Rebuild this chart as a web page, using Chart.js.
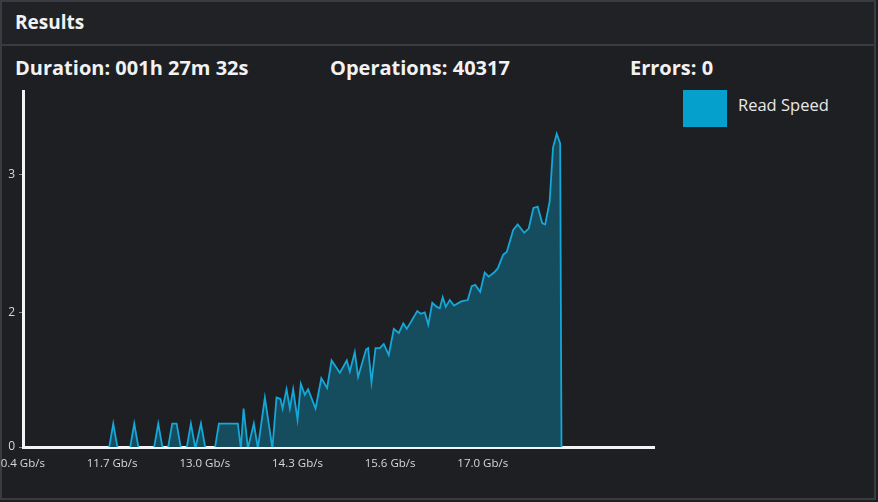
<!DOCTYPE html>
<html>
<head>
<meta charset="utf-8">
<title>Results</title>
<script src="https://cdn.jsdelivr.net/npm/chart.js@4.4.1/dist/chart.umd.min.js"></script>
<style>
  html, body { margin: 0; padding: 0; width: 878px; height: 502px; overflow: hidden; background: #1e1f23; }
  body { position: relative; font-family: "Open Sans", sans-serif; color: #f2f2f2; }
  #panel { position: absolute; left: 0; top: 0; width: 876px; height: 500px; box-sizing: border-box; border: 2px solid #393b40; }
  #header { position: absolute; left: 2px; top: 2px; width: 872px; height: 42px; border-bottom: 2px solid #393b40; background: #202226; }
  .title { position: absolute; left: 13px; top: 7px; font-weight: 700; font-size: 19px; line-height: 26px; }
  .stat { position: absolute; top: 55px; font-weight: 700; font-size: 20px; line-height: 26px; white-space: nowrap; }
  #chartBox { position: absolute; left: 0; top: 80px; width: 670px; height: 410px; }
  #legend { position: absolute; left: 683px; top: 90px; display: flex; align-items: flex-start; }
  #legend .box { width: 44px; height: 37px; }
  #legend .txt { margin-left: 11px; margin-top: 4px; font-size: 16.5px; line-height: 22px; color: #e8e8e8; }
</style>
</head>
<body>
<div id="panel"></div>
<div id="header"><div class="title">Results</div></div>
<div class="stat" style="left:15px">Duration: 001h 27m 32s</div>
<div class="stat" style="left:330px">Operations: 40317</div>
<div class="stat" style="left:630px">Errors: 0</div>
<div id="chartBox"><canvas id="speedChart"></canvas></div>
<div id="legend"></div>

<script>
// ------------------ Data ------------------

const seriesLabel = "Read Speed";

// read speed (Gb/s)
const speeds = [
  11.456, 11.585, 11.646, 11.708, 11.884, 11.945, 12.007, 12.225, 12.287, 12.349,
  12.425, 12.486, 12.549, 12.610, 12.691, 12.752, 12.816, 12.895, 12.959, 13.094,
  13.151, 13.421, 13.464, 13.503, 13.564, 13.649, 13.706, 13.806, 13.913, 13.972,
  14.027, 14.058, 14.115, 14.162, 14.209, 14.271, 14.318, 14.375, 14.422, 14.528,
  14.610, 14.693, 14.756, 14.874, 14.973, 15.016, 15.087, 15.134, 15.248, 15.277,
  15.325, 15.382, 15.443, 15.500, 15.571, 15.643, 15.714, 15.778, 15.828, 15.977,
  16.027, 16.084, 16.134, 16.191, 16.255, 16.298, 16.340, 16.383, 16.440, 16.501,
  16.604, 16.696, 16.753, 16.803, 16.874, 16.938, 16.995, 17.071, 17.124, 17.202,
  17.252, 17.344, 17.408, 17.501, 17.565, 17.632, 17.693, 17.757, 17.800, 17.864,
  17.911, 17.964, 18.013, 18.032, 18.078
];

// baseline points (1.01) sit just under the axis line
const readValues = [
  1.01, 1.01, 1.19, 1.01, 1.01, 1.19, 1.01, 1.01, 1.19, 1.01,
  1.01, 1.19, 1.19, 1.01, 1.01, 1.19, 1.01, 1.19, 1.01, 1.01,
  1.19, 1.19, 1.01, 1.30, 1.01, 1.19, 1.01, 1.38, 1.01, 1.38,
  1.37, 1.30, 1.44, 1.30, 1.44, 1.22, 1.48, 1.40, 1.44, 1.30,
  1.52, 1.45, 1.65, 1.56, 1.65, 1.57, 1.71, 1.53, 1.73, 1.74,
  1.49, 1.74, 1.74, 1.77, 1.69, 1.88, 1.85, 1.92, 1.88, 2.01,
  1.99, 2.00, 1.91, 2.07, 2.04, 2.03, 2.11, 2.04, 2.09, 2.05,
  2.08, 2.09, 2.19, 2.20, 2.15, 2.29, 2.26, 2.29, 2.32, 2.42,
  2.44, 2.60, 2.64, 2.58, 2.61, 2.76, 2.77, 2.65, 2.64, 2.81,
  3.20, 3.30, 3.23, 1.01, 1.01
];

// axis ticks
const xTickValues = [10.36, 11.68, 13.00, 14.32, 15.64, 16.96];
const xTickLabels = ["10.4 Gb/s", "11.7 Gb/s", "13.0 Gb/s", "14.3 Gb/s", "15.6 Gb/s", "17.0 Gb/s"];
const yTickValues = [1.02, 2, 3];
const yTickLabels = ["0", "2", "3"];

const xMin = 10.36, xMax = 19.35;
const yMin = 1.02, yMax = 3.61;

const lineColor = "#14a7d8";
const boxColor = "#05a0cc";
const fillColor = "#154d5e";

// ------------------ Chart ------------------

const points = speeds.map((s, i) => ({ x: s, y: readValues[i] }));

const ctx = document.getElementById("speedChart").getContext("2d");
const speedChart = new Chart(ctx, {
  type: "line",
  data: {
    datasets: [{
      label: seriesLabel,
      data: points,
      borderColor: lineColor,
      backgroundColor: fillColor,
      borderWidth: 1.8,
      pointRadius: 0,
      fill: "start",
      tension: 0
    }]
  },
  options: {
    responsive: true,
    maintainAspectRatio: false,
    animation: false,
    layout: { padding: { top: 10, right: 16, left: 0, bottom: 0 } },
    plugins: { legend: { display: false }, tooltip: { enabled: false } },
    scales: {
      x: {
        type: "linear",
        z: 1,
        min: xMin,
        max: xMax,
        afterFit: s => { s.height = 43; s.paddingLeft = 0; s.paddingRight = 0; },
        afterBuildTicks: s => { s.ticks = xTickValues.map(v => ({ value: v })); },
        grid: { display: true, drawOnChartArea: false, drawTicks: false },
        border: { display: true, color: "#f4f4f4", width: 3 },
        ticks: {
          autoSkip: false,
          maxRotation: 0,
          padding: 10,
          labelOffset: -3.5,
          color: "#d8d8d8",
          font: { family: "Open Sans", size: 11.5 },
          callback: (v, i) => xTickLabels[i]
        }
      },
      y: {
        type: "linear",
        z: 1,
        min: yMin,
        max: yMax,
        afterFit: s => { s.width = 23; },
        afterBuildTicks: s => { s.ticks = yTickValues.map(v => ({ value: v })); },
        grid: { display: true, drawOnChartArea: false, drawTicks: true, tickLength: 4, color: "#8c8c8c" },
        border: { display: true, color: "#f4f4f4", width: 3 },
        ticks: {
          padding: 4,
          color: "#d8d8d8",
          font: { family: "Open Sans", size: 12 },
          callback: (v, i) => yTickLabels[i]
        }
      }
    }
  }
});

// ------------------ Legend ------------------

const legend = document.getElementById("legend");
speedChart.data.datasets.forEach(ds => {
  legend.innerHTML += `<div class="box" style="background:${boxColor}"></div><div class="txt">${ds.label}</div>`;
});
</script>
</body>
</html>
